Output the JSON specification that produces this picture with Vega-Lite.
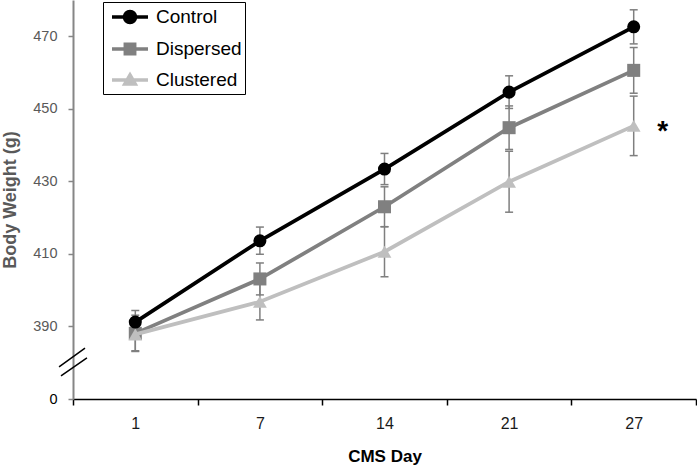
{
  "$schema": "https://vega.github.io/schema/vega-lite/v6.json",
  "width": 623,
  "height": 399,
  "autosize": "none",
  "padding": {"left": 73, "top": 0, "right": 1, "bottom": 69},
  "background": "white",
  "config": {"view": {"stroke": null}, "font": "Liberation Sans"},
  "data": {"values": [
    {"day": 1, "series": "Dispersed", "value": 388.1, "lo": 383.1, "hi": 393.1},
    {"day": 7, "series": "Dispersed", "value": 403.1, "lo": 398.7, "hi": 407.5},
    {"day": 14, "series": "Dispersed", "value": 423.0, "lo": 417.5, "hi": 428.5},
    {"day": 21, "series": "Dispersed", "value": 444.8, "lo": 438.8, "hi": 450.8},
    {"day": 27, "series": "Dispersed", "value": 460.6, "lo": 454.3, "hi": 466.9},
    {"day": 1, "series": "Clustered", "value": 387.8, "lo": 383.3, "hi": 392.3},
    {"day": 7, "series": "Clustered", "value": 396.8, "lo": 391.8, "hi": 401.8},
    {"day": 14, "series": "Clustered", "value": 410.6, "lo": 403.7, "hi": 417.5},
    {"day": 21, "series": "Clustered", "value": 429.9, "lo": 421.5, "hi": 438.3},
    {"day": 27, "series": "Clustered", "value": 445.3, "lo": 437.1, "hi": 453.5},
    {"day": 1, "series": "Control", "value": 391.2, "lo": 387.9, "hi": 394.4},
    {"day": 7, "series": "Control", "value": 413.6, "lo": 409.9, "hi": 417.4},
    {"day": 14, "series": "Control", "value": 433.4, "lo": 429.1, "hi": 437.7},
    {"day": 21, "series": "Control", "value": 454.6, "lo": 450.1, "hi": 459.1},
    {"day": 27, "series": "Control", "value": 472.6, "lo": 467.9, "hi": 477.3}
  ]},
  "encoding": {
    "x": {
      "field": "day", "type": "ordinal",
      "scale": {"type": "band", "domain": [1, 7, 14, 21, 27], "paddingInner": 0, "paddingOuter": 0},
      "axis": {
        "title": "CMS Day", "tickBand": "extent", "labelAngle": 0,
        "domainColor": "#000", "domainWidth": 1.5, "tickColor": "#000", "tickWidth": 1.5, "tickSize": 6,
        "labelFontSize": 16, "labelColor": "#1a1a1a", "labelPadding": 10,
        "titleFontSize": 17, "titleFontWeight": "bold", "titleColor": "#000", "titlePadding": 17
      }
    },
    "y": {
      "field": "value", "type": "quantitative",
      "scale": {"domain": [370, 480], "nice": false, "zero": false},
      "axis": {
        "values": [370, 390, 410, 430, 450, 470],
        "labelExpr": "datum.value == 370 ? '0' : datum.label",
        "labelColor": {"condition": {"test": "datum.value == 370", "value": "#000"}, "value": "#595959"},
        "grid": false,
        "domainColor": "#868686", "domainWidth": 2, "tickColor": "#868686", "tickWidth": 1.5, "tickSize": 5,
        "labelFontSize": 14.5, "labelPadding": 11,
        "title": "Body Weight (g)", "titleFontSize": 18, "titleColor": "#595959", "titleFontWeight": "bold", "titlePadding": 13
      }
    }
  },
  "layer": [
    {
      "mark": {"type": "rule", "color": "#7f7f7f", "strokeWidth": 1.5},
      "encoding": {
        "y": {"field": "lo", "type": "quantitative"},
        "y2": {"field": "hi"}
      }
    },
    {
      "mark": {"type": "tick", "color": "#7f7f7f", "thickness": 1.5, "size": 8, "opacity": 1},
      "encoding": {"y": {"field": "lo", "type": "quantitative"}}
    },
    {
      "mark": {"type": "tick", "color": "#7f7f7f", "thickness": 1.5, "size": 8, "opacity": 1},
      "encoding": {"y": {"field": "hi", "type": "quantitative"}}
    },
    {
      "transform": [{"filter": "datum.series == 'Dispersed'"}],
      "mark": {"type": "line", "color": "#808080", "strokeWidth": 3.75,
        "point": {"shape": "square", "size": 170, "filled": true, "color": "#808080", "opacity": 1}}
    },
    {
      "transform": [{"filter": "datum.series == 'Clustered'"}],
      "mark": {"type": "line", "color": "#bfbfbf", "strokeWidth": 3.75,
        "point": {"shape": "triangle-up", "size": 190, "filled": true, "color": "#bfbfbf", "opacity": 1}}
    },
    {
      "transform": [{"filter": "datum.series == 'Control'"}],
      "mark": {"type": "line", "color": "#000000", "strokeWidth": 3.75,
        "point": {"shape": "circle", "size": 170, "filled": true, "color": "#000000", "opacity": 1}}
    },
    {
      "data": {"values": [{"day": 27, "value": 445.3, "label": "*"}]},
      "mark": {"type": "text", "dx": 29, "dy": 6, "fontSize": 28, "fontWeight": "bold", "color": "#000"},
      "encoding": {
        "y": {"field": "value", "type": "quantitative"},
        "text": {"field": "label"}
      }
    },
    {
      "data": {"values": [{"day": 1, "value": 380.2}]},
      "mark": {"type": "point", "shape": "M-0.93,0.33L0.8,-0.93M-0.8,0.93L0.93,-0.27", "size": 900, "filled": false, "stroke": "#000", "strokeWidth": 1.5, "opacity": 1},
      "encoding": {
        "x": {"field": "day", "type": "ordinal", "bandPosition": 0},
        "y": {"field": "value", "type": "quantitative"}
      }
    },
    {
      "transform": [{"filter": "false"}],
      "mark": {"type": "point", "filled": true, "size": 400, "opacity": 1},
      "encoding": {
        "color": {"field": "series", "type": "nominal",
          "scale": {"domain": ["Control", "Dispersed", "Clustered"], "range": ["#000000", "#808080", "#bfbfbf"]},
          "legend": {
            "orient": "none", "legendX": 30, "legendY": 2, "title": null,
            "padding": 3, "rowPadding": 7, "symbolOffset": 12, "labelOffset": 14,
            "labelFontSize": 19, "labelColor": "#000", "labelFont": "Liberation Sans",
            "symbolSize": 400, "symbolStrokeWidth": 3.5,
            "strokeColor": "#000", "fillColor": "#fff",
            "labelExpr": "datum.label + '\u00a0\u00a0'"
          }},
        "stroke": {"field": "series", "type": "nominal",
          "scale": {"domain": ["Control", "Dispersed", "Clustered"], "range": ["#000000", "#808080", "#bfbfbf"]},
          "legend": {
            "orient": "none", "legendX": 30, "legendY": 2, "title": null,
            "padding": 3, "rowPadding": 7, "symbolOffset": 12, "labelOffset": 14,
            "labelFontSize": 19, "labelColor": "#000", "labelFont": "Liberation Sans",
            "symbolSize": 400, "symbolStrokeWidth": 3.5,
            "strokeColor": "#000", "fillColor": "#fff",
            "labelExpr": "datum.label + '\u00a0\u00a0'"
          }},
        "shape": {"field": "series", "type": "nominal",
          "scale": {"domain": ["Control", "Dispersed", "Clustered"],
            "range": [
              "M-0.55,0A0.55,0.55,0,1,1,0.55,0A0.55,0.55,0,1,1,-0.55,0ZM-1.8,0L1.8,0",
              "M-0.47,-0.47L0.47,-0.47L0.47,0.47L-0.47,0.47ZM-1.8,0L1.8,0",
              "M0,-0.5L0.52,0.4L-0.52,0.4ZM-1.8,0L1.8,0"
            ]},
          "legend": {
            "orient": "none", "legendX": 30, "legendY": 2, "title": null,
            "padding": 3, "rowPadding": 7, "symbolOffset": 12, "labelOffset": 14,
            "labelFontSize": 19, "labelColor": "#000", "labelFont": "Liberation Sans",
            "symbolSize": 400, "symbolStrokeWidth": 3.5,
            "strokeColor": "#000", "fillColor": "#fff",
            "labelExpr": "datum.label + '\u00a0\u00a0'"
          }}
      }
    }
  ]
}
